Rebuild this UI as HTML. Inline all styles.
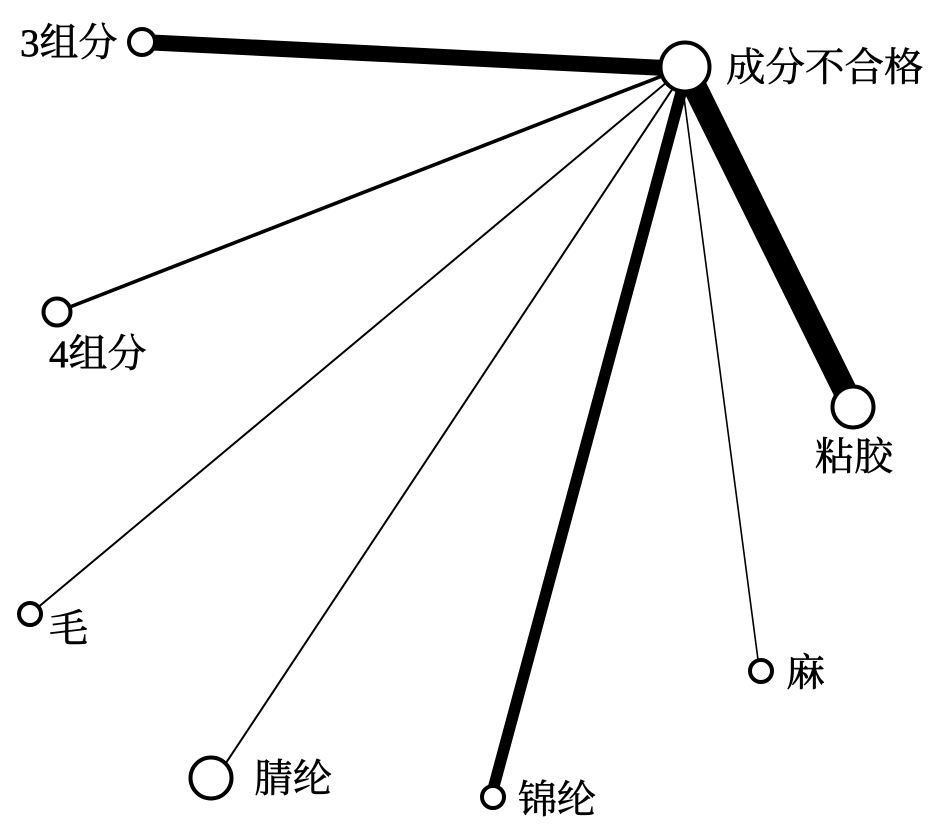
<!DOCTYPE html>
<html lang="zh">
<head>
<meta charset="utf-8">
<style>
html,body{margin:0;padding:0;background:#fff;width:945px;height:835px;overflow:hidden}
svg{display:block}
text{font-family:"Liberation Serif","Noto Serif CJK SC",serif;font-size:39px;fill:#000;stroke:#000;stroke-width:.6px}
</style>
</head>
<body>
<svg width="945" height="835" viewBox="0 0 945 835" xmlns="http://www.w3.org/2000/svg">
<g stroke="#000" fill="none">
<line x1="142" y1="42" x2="685" y2="69" stroke-width="16"/>
<line x1="57" y1="312" x2="685" y2="67" stroke-width="3.6"/>
<line x1="30" y1="614" x2="685" y2="67" stroke-width="2"/>
<line x1="216" y1="778" x2="687" y2="67" stroke-width="2"/>
<line x1="491" y1="797" x2="688" y2="67" stroke-width="11.5"/>
<line x1="759.5" y1="671" x2="680" y2="67" stroke-width="1.6"/>
<line x1="853" y1="407" x2="685" y2="67" stroke-width="24"/>
</g>
<g fill="#fff" stroke="#000" stroke-width="4">
<circle cx="685" cy="67" r="24.5"/>
<circle cx="142" cy="42" r="13"/>
<circle cx="57" cy="312" r="13.5"/>
<circle cx="853" cy="407" r="20.5"/>
<circle cx="211" cy="778" r="20.5"/>
<circle cx="493" cy="797" r="11"/>
<circle cx="30" cy="614" r="11"/>
<circle cx="761" cy="671" r="11"/>
</g>
<text x="726" y="81" style="font-size:39.5px">成分不合格</text>
<text x="20" y="56">3组分</text>
<text x="49" y="367">4组分</text>
<text x="815" y="470">粘胶</text>
<text x="49" y="642">毛</text>
<text x="786" y="686">麻</text>
<text x="254" y="792">腈纶</text>
<text x="518" y="813">锦纶</text>
</svg>
</body>
</html>
